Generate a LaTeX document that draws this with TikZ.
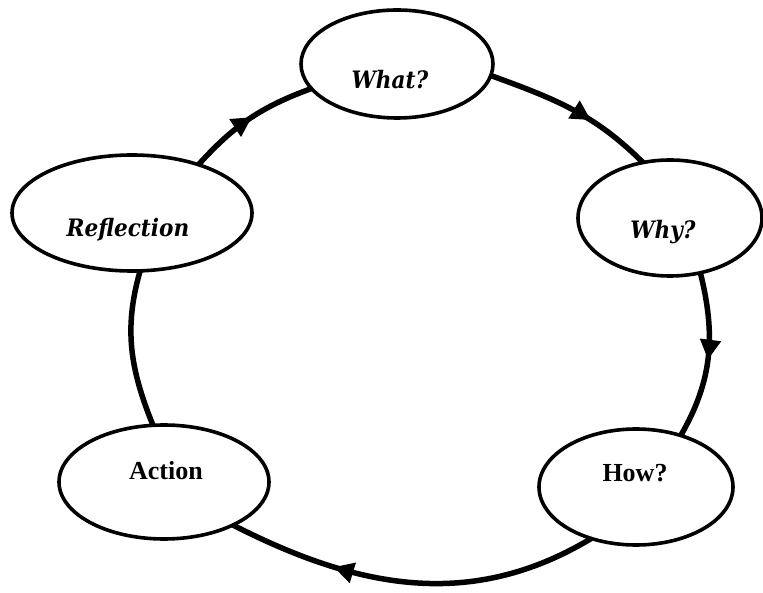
\documentclass[tikz,border=0pt]{standalone}
\usepackage{fontspec}
\setmainfont{Liberation Serif}
\newfontfamily\itfont{DejaVu Serif Condensed}
\usetikzlibrary{shapes.geometric,arrows.meta,decorations.markings}
\begin{document}
\begin{tikzpicture}[x=1pt,y=1pt,
  bub/.style={ellipse, draw, line width=3.6pt, fill=white, inner sep=0pt, outer sep=0pt},
  arc/.style={line width=5.5pt},
  lbl/.style={font=\fontsize{26}{30}\selectfont\bfseries},
  ilbl/.style={font=\itfont\fontsize{24}{28}\selectfont\bfseries\itshape},
  midarrow/.style={postaction={decorate}, decoration={markings, mark=at position #1 with {\arrow{Triangle[length=20pt,width=20pt]}}}}
]
\useasboundingbox (0,0) rectangle (763,592);
\node[bub, minimum width=192, minimum height=108] (what) at (397,528) {};
\node[bub, minimum width=184, minimum height=116] (why) at (670,374) {};
\node[bub, minimum width=194, minimum height=116] (how) at (636,105) {};
\node[bub, minimum width=210, minimum height=114] (action) at (164,110) {};
\node[bub, minimum width=240, minimum height=116] (reflection) at (132,379) {};

\node[ilbl] (twhat) at ([xshift=-7pt,yshift=-16pt]what.center) {What?};
\node[ilbl] (twhy) at ([xshift=-7pt,yshift=-14pt]why.center) {Why?};
\node[lbl] (thow) at ([xshift=-1pt,yshift=14pt]how.center) {How?};
\node[lbl] (taction) at ([xshift=2pt,yshift=11pt]action.center) {Action};
\node[ilbl] (trefl) at ([xshift=-4pt,yshift=-17pt]reflection.center) {Reflection};

\draw[arc, midarrow=0.62] (what.-7) to[out=-20, in=135] (why.116);
\draw[arc, midarrow=0.52] (why.-61) to[out=-76, in=60] (how.49);
\draw[arc, midarrow=0.71] (how.-131) to[out=-149, in=-27] (action.-32);
\draw[arc] (action.101) to[out=112, in=-106] (reflection.-82);
\draw[arc, midarrow=0.52] (reflection.36) to[out=48, in=200] (what.-164);
\end{tikzpicture}
\end{document}
